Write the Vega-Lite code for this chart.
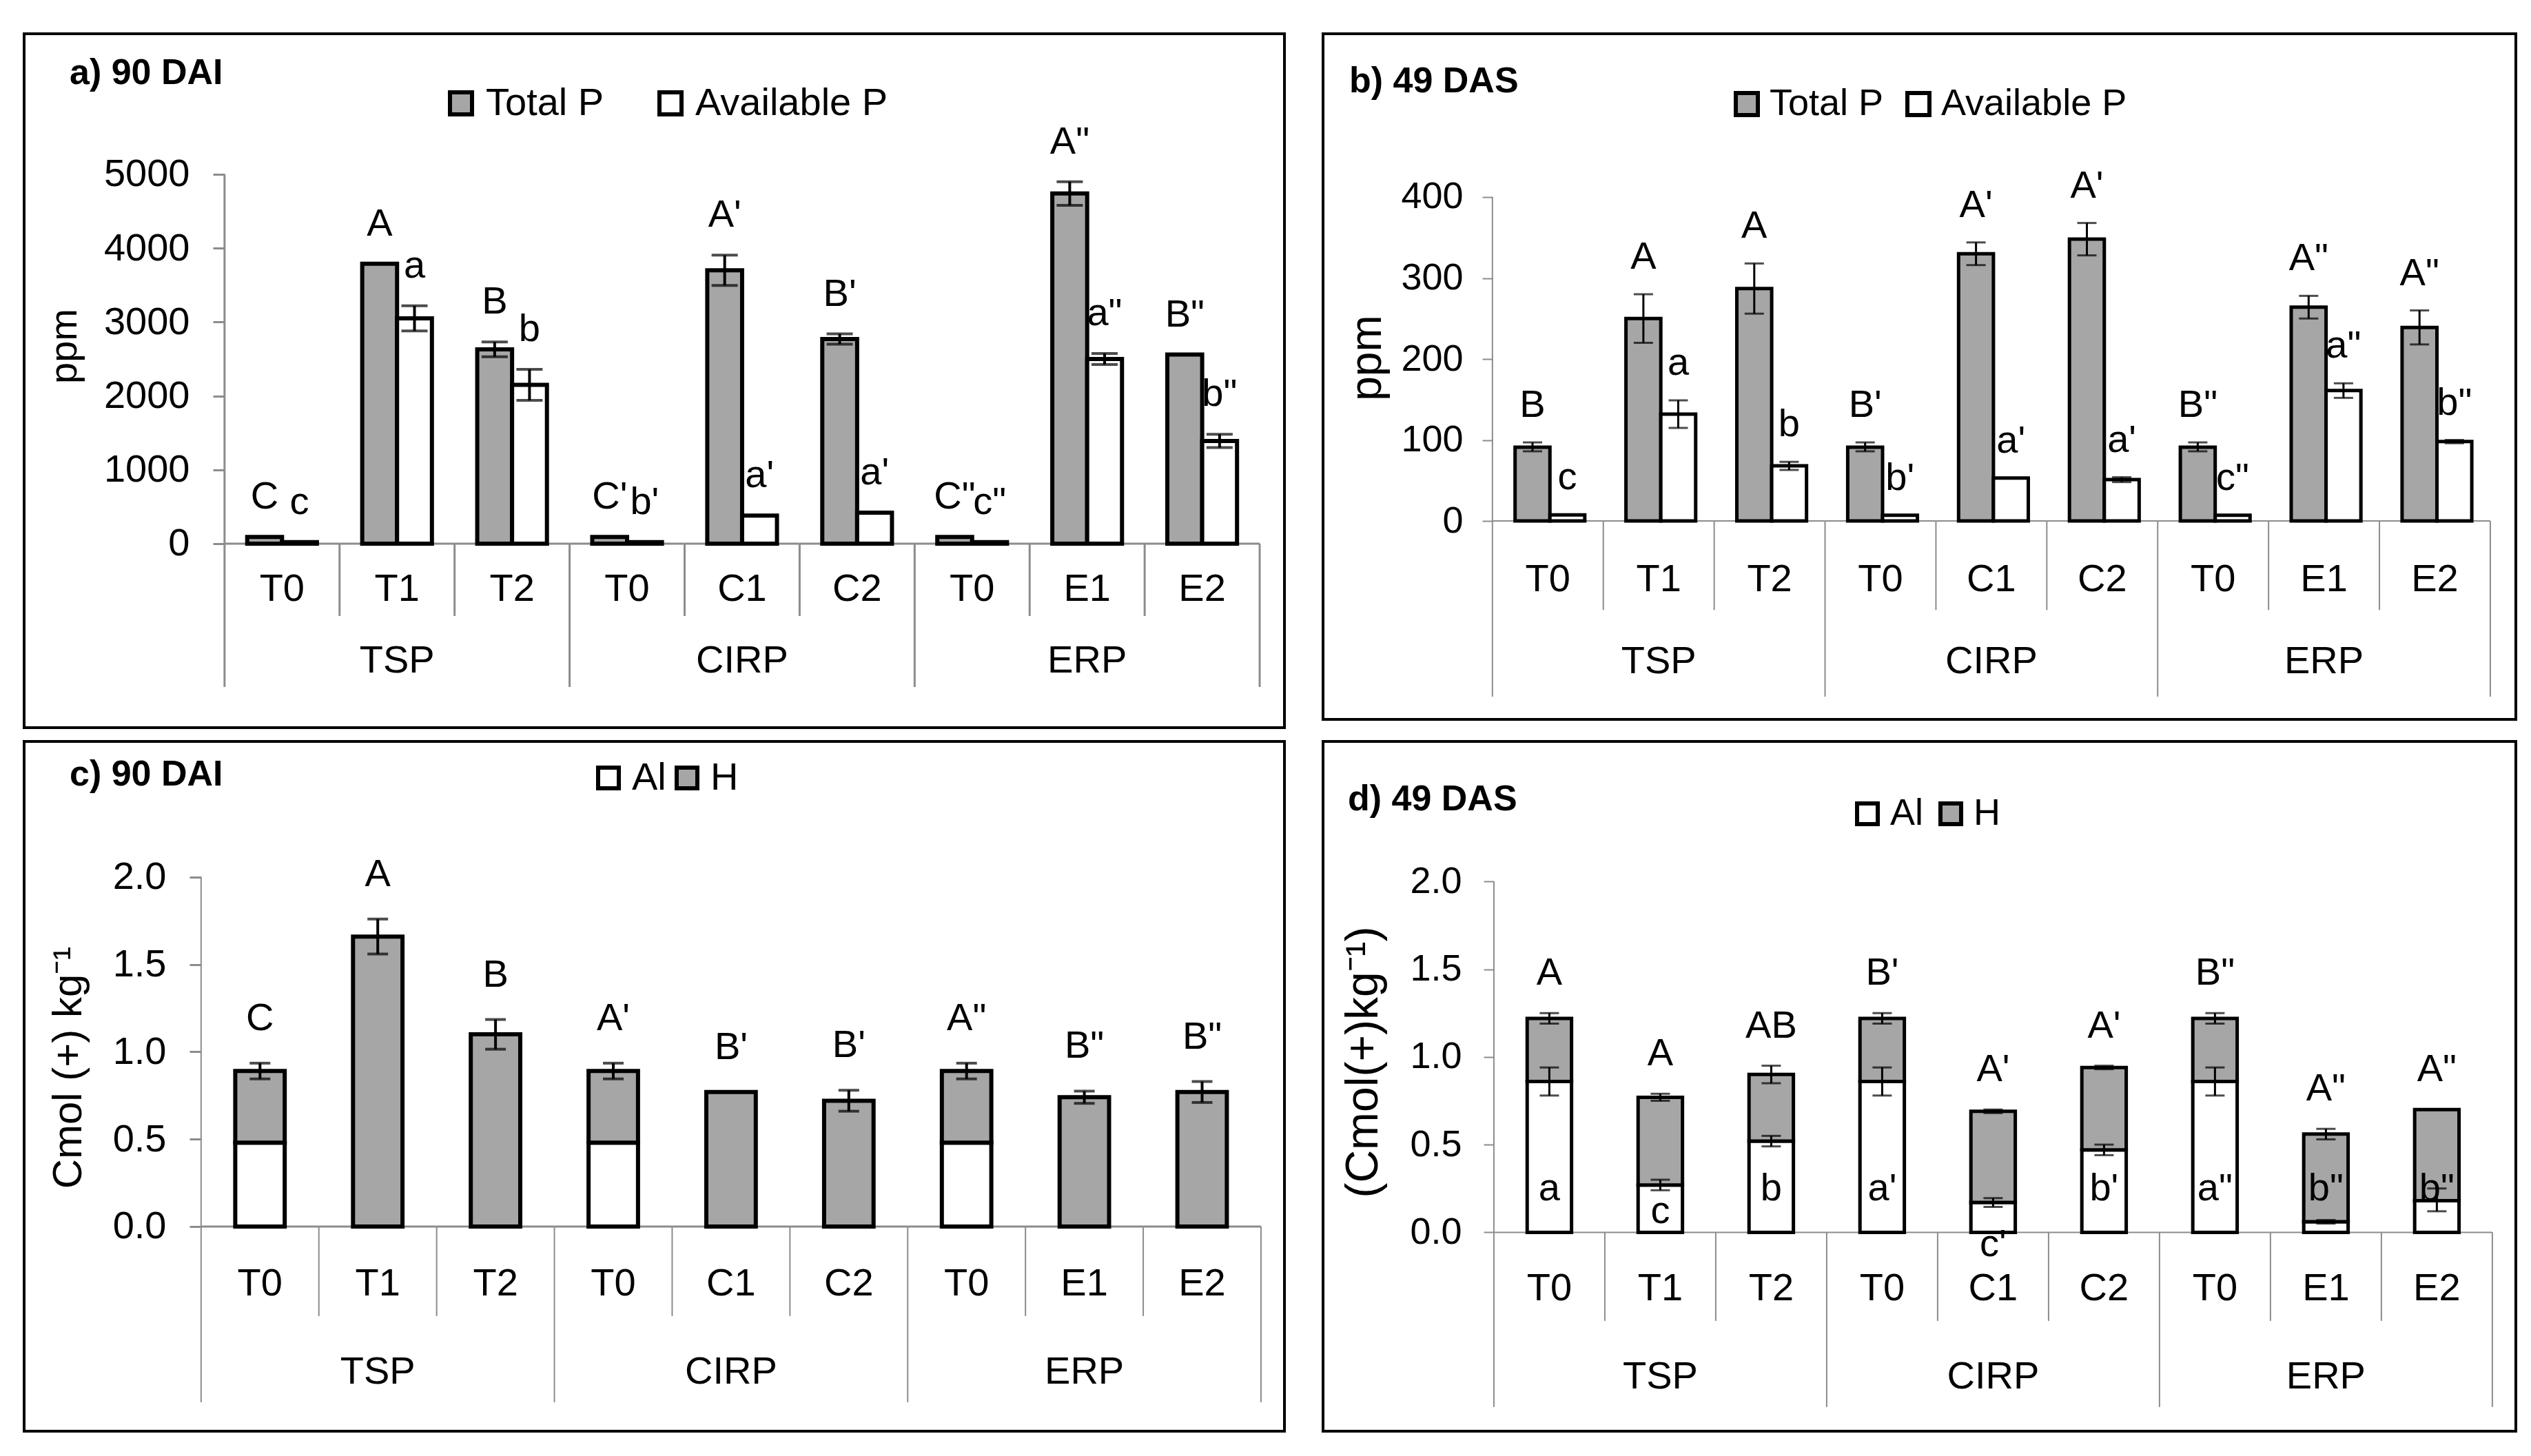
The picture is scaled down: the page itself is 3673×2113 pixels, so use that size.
{
"$schema": "https://vega.github.io/schema/vega-lite/v6.json",
"background": "white",
"padding": {"left": 33, "top": 47, "right": 0, "bottom": 0},
"spacing": 16,
"resolve": {"scale": {"fill": "independent"}, "legend": {"fill": "independent"}},
"datasets": {
"a": [
{"key":"TSP-T0","grp":"TSP","trt":"T0","series":"Total P","value":90,"lo":90,"hi":90,"letter":"C"},
{"key":"TSP-T0","grp":"TSP","trt":"T0","series":"Available P","value":20,"lo":20,"hi":20,"letter":"c"},
{"key":"TSP-T1","grp":"TSP","trt":"T1","series":"Total P","value":3790,"lo":3790,"hi":3790,"letter":"A"},
{"key":"TSP-T1","grp":"TSP","trt":"T1","series":"Available P","value":3050,"lo":2880,"hi":3220,"letter":"a"},
{"key":"TSP-T2","grp":"TSP","trt":"T2","series":"Total P","value":2630,"lo":2530,"hi":2730,"letter":"B"},
{"key":"TSP-T2","grp":"TSP","trt":"T2","series":"Available P","value":2150,"lo":1940,"hi":2360,"letter":"b"},
{"key":"CIRP-T0","grp":"CIRP","trt":"T0","series":"Total P","value":90,"lo":90,"hi":90,"letter":"C'"},
{"key":"CIRP-T0","grp":"CIRP","trt":"T0","series":"Available P","value":20,"lo":20,"hi":20,"letter":"b'"},
{"key":"CIRP-C1","grp":"CIRP","trt":"C1","series":"Total P","value":3700,"lo":3495,"hi":3905,"letter":"A'"},
{"key":"CIRP-C1","grp":"CIRP","trt":"C1","series":"Available P","value":380,"lo":380,"hi":380,"letter":"a'"},
{"key":"CIRP-C2","grp":"CIRP","trt":"C2","series":"Total P","value":2770,"lo":2700,"hi":2840,"letter":"B'"},
{"key":"CIRP-C2","grp":"CIRP","trt":"C2","series":"Available P","value":420,"lo":420,"hi":420,"letter":"a'"},
{"key":"ERP-T0","grp":"ERP","trt":"T0","series":"Total P","value":90,"lo":90,"hi":90,"letter":"C\""},
{"key":"ERP-T0","grp":"ERP","trt":"T0","series":"Available P","value":20,"lo":20,"hi":20,"letter":"c\""},
{"key":"ERP-E1","grp":"ERP","trt":"E1","series":"Total P","value":4740,"lo":4580,"hi":4900,"letter":"A\""},
{"key":"ERP-E1","grp":"ERP","trt":"E1","series":"Available P","value":2500,"lo":2425,"hi":2575,"letter":"a\""},
{"key":"ERP-E2","grp":"ERP","trt":"E2","series":"Total P","value":2560,"lo":2560,"hi":2560,"letter":"B\""},
{"key":"ERP-E2","grp":"ERP","trt":"E2","series":"Available P","value":1390,"lo":1300,"hi":1480,"letter":"b\""}
],
"b": [
{"key":"TSP-T0","grp":"TSP","trt":"T0","series":"Total P","value":91,"lo":86,"hi":97,"letter":"B"},
{"key":"TSP-T0","grp":"TSP","trt":"T0","series":"Available P","value":7.5,"lo":7.5,"hi":7.5,"letter":"c"},
{"key":"TSP-T1","grp":"TSP","trt":"T1","series":"Total P","value":250,"lo":220,"hi":280,"letter":"A"},
{"key":"TSP-T1","grp":"TSP","trt":"T1","series":"Available P","value":132,"lo":115,"hi":149,"letter":"a"},
{"key":"TSP-T2","grp":"TSP","trt":"T2","series":"Total P","value":287,"lo":256,"hi":318,"letter":"A"},
{"key":"TSP-T2","grp":"TSP","trt":"T2","series":"Available P","value":68,"lo":63,"hi":73,"letter":"b"},
{"key":"CIRP-T0","grp":"CIRP","trt":"T0","series":"Total P","value":91,"lo":86,"hi":97,"letter":"B'"},
{"key":"CIRP-T0","grp":"CIRP","trt":"T0","series":"Available P","value":7,"lo":7,"hi":7,"letter":"b'"},
{"key":"CIRP-C1","grp":"CIRP","trt":"C1","series":"Total P","value":330,"lo":316,"hi":344,"letter":"A'"},
{"key":"CIRP-C1","grp":"CIRP","trt":"C1","series":"Available P","value":53,"lo":53,"hi":53,"letter":"a'"},
{"key":"CIRP-C2","grp":"CIRP","trt":"C2","series":"Total P","value":348,"lo":328,"hi":368,"letter":"A'"},
{"key":"CIRP-C2","grp":"CIRP","trt":"C2","series":"Available P","value":51,"lo":48,"hi":54,"letter":"a'"},
{"key":"ERP-T0","grp":"ERP","trt":"T0","series":"Total P","value":91,"lo":86,"hi":97,"letter":"B\""},
{"key":"ERP-T0","grp":"ERP","trt":"T0","series":"Available P","value":7,"lo":7,"hi":7,"letter":"c\""},
{"key":"ERP-E1","grp":"ERP","trt":"E1","series":"Total P","value":264,"lo":250,"hi":278,"letter":"A\""},
{"key":"ERP-E1","grp":"ERP","trt":"E1","series":"Available P","value":161,"lo":152,"hi":170,"letter":"a\""},
{"key":"ERP-E2","grp":"ERP","trt":"E2","series":"Total P","value":239,"lo":218,"hi":260,"letter":"A\""},
{"key":"ERP-E2","grp":"ERP","trt":"E2","series":"Available P","value":98,"lo":96,"hi":100,"letter":"b\""}
],
"c": [
{"key":"TSP-T0","grp":"TSP","trt":"T0","series":"Al","value":0.48,"lo":null,"hi":null,"letter":""},
{"key":"TSP-T0","grp":"TSP","trt":"T0","series":"H","value":0.41,"lo":0.845,"hi":0.935,"letter":"C"},
{"key":"TSP-T1","grp":"TSP","trt":"T1","series":"Al","value":0,"lo":null,"hi":null,"letter":""},
{"key":"TSP-T1","grp":"TSP","trt":"T1","series":"H","value":1.66,"lo":1.56,"hi":1.76,"letter":"A"},
{"key":"TSP-T2","grp":"TSP","trt":"T2","series":"Al","value":0,"lo":null,"hi":null,"letter":""},
{"key":"TSP-T2","grp":"TSP","trt":"T2","series":"H","value":1.10,"lo":1.015,"hi":1.185,"letter":"B"},
{"key":"CIRP-T0","grp":"CIRP","trt":"T0","series":"Al","value":0.48,"lo":null,"hi":null,"letter":""},
{"key":"CIRP-T0","grp":"CIRP","trt":"T0","series":"H","value":0.41,"lo":0.845,"hi":0.935,"letter":"A'"},
{"key":"CIRP-C1","grp":"CIRP","trt":"C1","series":"Al","value":0,"lo":null,"hi":null,"letter":""},
{"key":"CIRP-C1","grp":"CIRP","trt":"C1","series":"H","value":0.77,"lo":0.77,"hi":0.77,"letter":"B'"},
{"key":"CIRP-C2","grp":"CIRP","trt":"C2","series":"Al","value":0,"lo":null,"hi":null,"letter":""},
{"key":"CIRP-C2","grp":"CIRP","trt":"C2","series":"H","value":0.72,"lo":0.66,"hi":0.78,"letter":"B'"},
{"key":"ERP-T0","grp":"ERP","trt":"T0","series":"Al","value":0.48,"lo":null,"hi":null,"letter":""},
{"key":"ERP-T0","grp":"ERP","trt":"T0","series":"H","value":0.41,"lo":0.845,"hi":0.935,"letter":"A\""},
{"key":"ERP-E1","grp":"ERP","trt":"E1","series":"Al","value":0,"lo":null,"hi":null,"letter":""},
{"key":"ERP-E1","grp":"ERP","trt":"E1","series":"H","value":0.74,"lo":0.705,"hi":0.775,"letter":"B\""},
{"key":"ERP-E2","grp":"ERP","trt":"E2","series":"Al","value":0,"lo":null,"hi":null,"letter":""},
{"key":"ERP-E2","grp":"ERP","trt":"E2","series":"H","value":0.77,"lo":0.71,"hi":0.83,"letter":"B\""}
],
"d": [
{"key":"TSP-T0","grp":"TSP","trt":"T0","series":"Al","value":0.86,"lo":0.78,"hi":0.94,"letter":"a"},
{"key":"TSP-T0","grp":"TSP","trt":"T0","series":"H","value":0.36,"lo":1.19,"hi":1.25,"letter":"A"},
{"key":"TSP-T1","grp":"TSP","trt":"T1","series":"Al","value":0.27,"lo":0.24,"hi":0.30,"letter":"c"},
{"key":"TSP-T1","grp":"TSP","trt":"T1","series":"H","value":0.50,"lo":0.75,"hi":0.79,"letter":"A"},
{"key":"TSP-T2","grp":"TSP","trt":"T2","series":"Al","value":0.52,"lo":0.49,"hi":0.55,"letter":"b"},
{"key":"TSP-T2","grp":"TSP","trt":"T2","series":"H","value":0.38,"lo":0.85,"hi":0.95,"letter":"AB"},
{"key":"CIRP-T0","grp":"CIRP","trt":"T0","series":"Al","value":0.86,"lo":0.78,"hi":0.94,"letter":"a'"},
{"key":"CIRP-T0","grp":"CIRP","trt":"T0","series":"H","value":0.36,"lo":1.19,"hi":1.25,"letter":"B'"},
{"key":"CIRP-C1","grp":"CIRP","trt":"C1","series":"Al","value":0.17,"lo":0.145,"hi":0.195,"letter":"c'"},
{"key":"CIRP-C1","grp":"CIRP","trt":"C1","series":"H","value":0.52,"lo":0.68,"hi":0.70,"letter":"A'"},
{"key":"CIRP-C2","grp":"CIRP","trt":"C2","series":"Al","value":0.47,"lo":0.44,"hi":0.50,"letter":"b'"},
{"key":"CIRP-C2","grp":"CIRP","trt":"C2","series":"H","value":0.47,"lo":0.93,"hi":0.95,"letter":"A'"},
{"key":"ERP-T0","grp":"ERP","trt":"T0","series":"Al","value":0.86,"lo":0.78,"hi":0.94,"letter":"a\""},
{"key":"ERP-T0","grp":"ERP","trt":"T0","series":"H","value":0.36,"lo":1.19,"hi":1.25,"letter":"B\""},
{"key":"ERP-E1","grp":"ERP","trt":"E1","series":"Al","value":0.06,"lo":0.05,"hi":0.07,"letter":"b\""},
{"key":"ERP-E1","grp":"ERP","trt":"E1","series":"H","value":0.50,"lo":0.53,"hi":0.59,"letter":"A\""},
{"key":"ERP-E2","grp":"ERP","trt":"E2","series":"Al","value":0.18,"lo":0.12,"hi":0.25,"letter":"b\""},
{"key":"ERP-E2","grp":"ERP","trt":"E2","series":"H","value":0.52,"lo":0.70,"hi":0.70,"letter":"A\""}
]
},
"vconcat": [
{"hconcat": [
{
"width": 1829, "height": 1007,
"data": {"name": "a"},
"title": {"text": "a)  90 DAI", "anchor": "start", "frame": "group", "fontSize": 52, "fontWeight": "bold", "baseline": "middle", "offset": -109, "dx": 66},
"layer": [
{"transform": [{"filter": "datum.series == 'Total P'"}],
 "mark": {"type": "rect", "stroke": "#8c8c8c", "strokeWidth": 3, "fill": "transparent"},
 "encoding": {"x": {"field": "key", "type": "nominal", "axis": null}, "y": {"datum": 0, "type": "quantitative"}, "y2": {"datum": 0}}},
{"transform": [{"filter": "datum.series == 'Total P' && datum.trt != 'T0'"}],
 "mark": {"type": "rule", "color": "#8c8c8c", "strokeWidth": 3},
 "encoding": {"x": {"field": "key", "type": "nominal", "bandPosition": 0, "axis": null}, "y": {"datum": 0, "type": "quantitative"}, "y2": {"datum": -979}}},
{"transform": [{"filter": "datum.series == 'Total P' && datum.trt == 'T0'"}],
 "mark": {"type": "rule", "color": "#8c8c8c", "strokeWidth": 3},
 "encoding": {"x": {"field": "key", "type": "nominal", "bandPosition": 0, "axis": null}, "y": {"datum": 0, "type": "quantitative"}, "y2": {"datum": -1940}}},
{"transform": [{"filter": "datum.series == 'Total P' && datum.key == 'TSP-T0'"}],
 "mark": {"type": "rule", "color": "#8c8c8c", "strokeWidth": 3},
 "encoding": {"x": {"field": "key", "type": "nominal", "bandPosition": 0, "axis": null}, "y": {"datum": 0, "type": "quantitative"}, "y2": {"datum": 5000}}},
{"transform": [{"filter": "datum.series == 'Total P' && datum.key == 'ERP-E2'"}],
 "mark": {"type": "rule", "color": "#8c8c8c", "strokeWidth": 3},
 "encoding": {"x": {"field": "key", "type": "nominal", "bandPosition": 1, "axis": null}, "y": {"datum": 0, "type": "quantitative"}, "y2": {"datum": -1940}}},
{"mark": {"type": "bar", "stroke": "black", "strokeWidth": 6},
 "encoding": {
  "x": {"field": "key", "type": "nominal", "axis": null, "scale": {"domain": ["TSP-T0","TSP-T1","TSP-T2","CIRP-T0","CIRP-C1","CIRP-C2","ERP-T0","ERP-E1","ERP-E2"], "paddingInner": 0, "paddingOuter": 0.979, "align": 0.89}},
  "xOffset": {"field": "series", "type": "nominal", "scale": {"domain": ["Total P","Available P"], "paddingInner": 0, "paddingOuter": 0.65}},
  "y": {"field": "value", "type": "quantitative", "scale": {"domain": [-2491, 6903], "nice": false},
        "axis": {"values": [0,1000,2000,3000,4000,5000], "format": "d", "offset": -291, "title": "ppm", "titleX": -233, "titleY": 453, "titleAngle": -90, "titleAlign": "center", "titleBaseline": "middle"}},
  "y2": {"datum": 0},
  "fill": {"field": "series", "type": "nominal", "scale": {"domain": ["Total P","Available P"], "range": ["#a6a6a6","#ffffff"]},
           "legend": {"title": null, "orient": "none", "direction": "horizontal", "legendX": 606, "legendY": 73, "columnPadding": 68, "labelFontSize": 56, "labelLimit": 0, "symbolType": "square", "symbolSize": 1024, "symbolStrokeColor": "black", "symbolStrokeWidth": 6, "labelOffset": 8}}
 }},
{"transform": [{"filter": "datum.hi > datum.lo"}],
 "mark": {"type": "rule", "color": "black", "strokeWidth": 4},
 "encoding": {"x": {"field": "key", "type": "nominal", "axis": null}, "xOffset": {"field": "series", "type": "nominal"}, "y": {"field": "lo", "type": "quantitative"}, "y2": {"field": "hi"}}},
{"transform": [{"filter": "datum.hi > datum.lo"}],
 "mark": {"type": "tick", "color": "black", "size": 38, "thickness": 4, "orient": "horizontal"},
 "encoding": {"x": {"field": "key", "type": "nominal", "axis": null}, "xOffset": {"field": "series", "type": "nominal"}, "y": {"field": "lo", "type": "quantitative"}}},
{"transform": [{"filter": "datum.hi > datum.lo"}],
 "mark": {"type": "tick", "color": "black", "size": 38, "thickness": 4, "orient": "horizontal"},
 "encoding": {"x": {"field": "key", "type": "nominal", "axis": null}, "xOffset": {"field": "series", "type": "nominal"}, "y": {"field": "hi", "type": "quantitative"}}},
{"mark": {"type": "text", "fontSize": 56, "baseline": "middle", "dy": -58},
 "encoding": {"x": {"field": "key", "type": "nominal", "axis": null}, "xOffset": {"field": "series", "type": "nominal"}, "y": {"field": "hi", "type": "quantitative"}, "text": {"field": "letter"}}},
{"transform": [{"filter": "datum.series == 'Total P'"}],
 "mark": {"type": "text", "fontSize": 56, "baseline": "middle"},
 "encoding": {"x": {"field": "key", "type": "nominal", "axis": null}, "y": {"datum": -616, "type": "quantitative"}, "text": {"field": "trt"}}},
{"transform": [{"filter": "datum.series == 'Total P' && (datum.trt == 'T1' || datum.trt == 'C1' || datum.trt == 'E1')"}],
 "mark": {"type": "text", "fontSize": 56, "baseline": "middle"},
 "encoding": {"x": {"field": "key", "type": "nominal", "axis": null}, "y": {"datum": -1586, "type": "quantitative"}, "text": {"field": "grp"}}}
]
},
{
"width": 1731, "height": 995,
"data": {"name": "b"},
"title": {"text": "b)  49 DAS", "anchor": "start", "frame": "group", "fontSize": 52, "fontWeight": "bold", "baseline": "middle", "offset": -121, "dx": 38},
"layer": [
{"transform": [{"filter": "datum.series == 'Total P'"}],
 "mark": {"type": "rect", "stroke": "#8c8c8c", "strokeWidth": 2, "fill": "transparent"},
 "encoding": {"x": {"field": "key", "type": "nominal", "axis": null}, "y": {"datum": 0, "type": "quantitative"}, "y2": {"datum": 0}}},
{"transform": [{"filter": "datum.series == 'Total P' && datum.trt != 'T0'"}],
 "mark": {"type": "rule", "color": "#8c8c8c", "strokeWidth": 2},
 "encoding": {"x": {"field": "key", "type": "nominal", "bandPosition": 0, "axis": null}, "y": {"datum": 0, "type": "quantitative"}, "y2": {"datum": -110}}},
{"transform": [{"filter": "datum.series == 'Total P' && datum.trt == 'T0'"}],
 "mark": {"type": "rule", "color": "#8c8c8c", "strokeWidth": 2},
 "encoding": {"x": {"field": "key", "type": "nominal", "bandPosition": 0, "axis": null}, "y": {"datum": 0, "type": "quantitative"}, "y2": {"datum": -217}}},
{"transform": [{"filter": "datum.series == 'Total P' && datum.key == 'TSP-T0'"}],
 "mark": {"type": "rule", "color": "#8c8c8c", "strokeWidth": 2},
 "encoding": {"x": {"field": "key", "type": "nominal", "bandPosition": 0, "axis": null}, "y": {"datum": 0, "type": "quantitative"}, "y2": {"datum": 400}}},
{"transform": [{"filter": "datum.series == 'Total P' && datum.key == 'ERP-E2'"}],
 "mark": {"type": "rule", "color": "#8c8c8c", "strokeWidth": 2},
 "encoding": {"x": {"field": "key", "type": "nominal", "bandPosition": 1, "axis": null}, "y": {"datum": 0, "type": "quantitative"}, "y2": {"datum": -217}}},
{"mark": {"type": "bar", "stroke": "black", "strokeWidth": 5},
 "encoding": {
  "x": {"field": "key", "type": "nominal", "axis": null, "scale": {"domain": ["TSP-T0","TSP-T1","TSP-T2","CIRP-T0","CIRP-C1","CIRP-C2","ERP-T0","ERP-E1","ERP-E2"], "paddingInner": 0, "paddingOuter": 0.879, "align": 0.869}},
  "xOffset": {"field": "series", "type": "nominal", "scale": {"domain": ["Total P","Available P"], "paddingInner": 0, "paddingOuter": 0.71}},
  "y": {"field": "value", "type": "quantitative", "scale": {"domain": [-245.1, 601.7], "nice": false},
        "axis": {"values": [0,100,200,300,400], "format": "d", "offset": -246, "title": "ppm", "titleX": -182, "titleY": 470, "titleAngle": -90, "titleAlign": "center", "titleBaseline": "middle", "labelFontSize": 54, "titleFontSize": 64, "tickWidth": 2, "tickSize": 15, "labelPadding": 28}},
  "y2": {"datum": 0},
  "fill": {"field": "series", "type": "nominal", "scale": {"domain": ["Total P","Available P"], "range": ["#a6a6a6","#ffffff"]},
           "legend": {"title": null, "orient": "none", "direction": "horizontal", "legendX": 588, "legendY": 75, "columnPadding": 22, "labelFontSize": 54, "labelLimit": 0, "symbolType": "square", "symbolSize": 1024, "symbolStrokeColor": "black", "symbolStrokeWidth": 6, "labelOffset": 6}}
 }},
{"transform": [{"filter": "datum.hi > datum.lo"}],
 "mark": {"type": "rule", "color": "black", "strokeWidth": 3},
 "encoding": {"x": {"field": "key", "type": "nominal", "axis": null}, "xOffset": {"field": "series", "type": "nominal"}, "y": {"field": "lo", "type": "quantitative"}, "y2": {"field": "hi"}}},
{"transform": [{"filter": "datum.hi > datum.lo"}],
 "mark": {"type": "tick", "color": "black", "size": 28, "thickness": 3, "orient": "horizontal"},
 "encoding": {"x": {"field": "key", "type": "nominal", "axis": null}, "xOffset": {"field": "series", "type": "nominal"}, "y": {"field": "lo", "type": "quantitative"}}},
{"transform": [{"filter": "datum.hi > datum.lo"}],
 "mark": {"type": "tick", "color": "black", "size": 28, "thickness": 3, "orient": "horizontal"},
 "encoding": {"x": {"field": "key", "type": "nominal", "axis": null}, "xOffset": {"field": "series", "type": "nominal"}, "y": {"field": "hi", "type": "quantitative"}}},
{"mark": {"type": "text", "fontSize": 56, "baseline": "middle", "dy": -54},
 "encoding": {"x": {"field": "key", "type": "nominal", "axis": null}, "xOffset": {"field": "series", "type": "nominal"}, "y": {"field": "hi", "type": "quantitative"}, "text": {"field": "letter"}}},
{"transform": [{"filter": "datum.series == 'Total P'"}],
 "mark": {"type": "text", "fontSize": 56, "baseline": "middle"},
 "encoding": {"x": {"field": "key", "type": "nominal", "axis": null}, "y": {"datum": -72, "type": "quantitative"}, "text": {"field": "trt"}}},
{"transform": [{"filter": "datum.series == 'Total P' && (datum.trt == 'T1' || datum.trt == 'C1' || datum.trt == 'E1')"}],
 "mark": {"type": "text", "fontSize": 56, "baseline": "middle"},
 "encoding": {"x": {"field": "key", "type": "nominal", "axis": null}, "y": {"datum": -174, "type": "quantitative"}, "text": {"field": "grp"}}}
]
}
], "spacing": 52, "resolve": {"scale": {"fill": "independent"}, "legend": {"fill": "independent"}}},
{"hconcat": [
{
"width": 1829, "height": 1001,
"data": {"name": "c"},
"title": {"text": "c)  90 DAI", "anchor": "start", "frame": "group", "fontSize": 52, "fontWeight": "bold", "baseline": "middle", "offset": -100, "dx": 66},
"layer": [
{"transform": [{"filter": "datum.series == 'H'"}],
 "mark": {"type": "rect", "stroke": "#8c8c8c", "strokeWidth": 3, "fill": "transparent"},
 "encoding": {"x": {"field": "key", "type": "nominal", "axis": null}, "y": {"datum": 0, "type": "quantitative"}, "y2": {"datum": 0}}},
{"transform": [{"filter": "datum.series == 'H' && datum.trt != 'T0'"}],
 "mark": {"type": "rule", "color": "#8c8c8c", "strokeWidth": 2},
 "encoding": {"x": {"field": "key", "type": "nominal", "bandPosition": 0, "axis": null}, "y": {"datum": 0, "type": "quantitative"}, "y2": {"datum": -0.513}}},
{"transform": [{"filter": "datum.series == 'H' && datum.trt == 'T0'"}],
 "mark": {"type": "rule", "color": "#8c8c8c", "strokeWidth": 2},
 "encoding": {"x": {"field": "key", "type": "nominal", "bandPosition": 0, "axis": null}, "y": {"datum": 0, "type": "quantitative"}, "y2": {"datum": -1.006}}},
{"transform": [{"filter": "datum.series == 'H' && datum.key == 'TSP-T0'"}],
 "mark": {"type": "rule", "color": "#8c8c8c", "strokeWidth": 2},
 "encoding": {"x": {"field": "key", "type": "nominal", "bandPosition": 0, "axis": null}, "y": {"datum": 0, "type": "quantitative"}, "y2": {"datum": 2}}},
{"transform": [{"filter": "datum.series == 'H' && datum.key == 'ERP-E2'"}],
 "mark": {"type": "rule", "color": "#8c8c8c", "strokeWidth": 2},
 "encoding": {"x": {"field": "key", "type": "nominal", "bandPosition": 1, "axis": null}, "y": {"datum": 0, "type": "quantitative"}, "y2": {"datum": -1.006}}},
{"mark": {"type": "bar", "stroke": "black", "strokeWidth": 6, "width": {"band": 0.42}},
 "encoding": {
  "x": {"field": "key", "type": "nominal", "axis": null, "scale": {"domain": ["TSP-T0","TSP-T1","TSP-T2","CIRP-T0","CIRP-C1","CIRP-C2","ERP-T0","ERP-E1","ERP-E2"], "paddingInner": 0, "paddingOuter": 0.851, "align": 0.883}},
  "y": {"field": "value", "type": "quantitative", "stack": "zero", "scale": {"domain": [-1.172, 2.777], "nice": false},
        "axis": {"values": [0,0.5,1,1.5,2], "format": ".1f", "offset": -257, "title": "Cmol   (+)   kg⁻¹", "titleX": -193, "titleY": 473, "titleAngle": -90, "titleAlign": "center", "titleBaseline": "middle", "titleFontSize": 60}},
  "fill": {"field": "series", "type": "nominal", "scale": {"domain": ["Al","H"], "range": ["#ffffff","#a6a6a6"]},
           "legend": {"title": null, "orient": "none", "direction": "horizontal", "legendX": 820, "legendY": 25, "columnPadding": 2, "labelFontSize": 56, "labelLimit": 0, "symbolType": "square", "symbolSize": 900, "symbolStrokeColor": "black", "symbolStrokeWidth": 6, "labelOffset": 6}},
  "order": {"field": "series", "sort": "ascending"}
 }},
{"transform": [{"filter": "datum.lo != null && datum.hi > datum.lo"}],
 "mark": {"type": "rule", "color": "black", "strokeWidth": 4},
 "encoding": {"x": {"field": "key", "type": "nominal", "axis": null}, "y": {"field": "lo", "type": "quantitative"}, "y2": {"field": "hi"}}},
{"transform": [{"filter": "datum.lo != null && datum.hi > datum.lo"}],
 "mark": {"type": "tick", "color": "black", "size": 30, "thickness": 4, "orient": "horizontal"},
 "encoding": {"x": {"field": "key", "type": "nominal", "axis": null}, "y": {"field": "lo", "type": "quantitative"}}},
{"transform": [{"filter": "datum.lo != null && datum.hi > datum.lo"}],
 "mark": {"type": "tick", "color": "black", "size": 30, "thickness": 4, "orient": "horizontal"},
 "encoding": {"x": {"field": "key", "type": "nominal", "axis": null}, "y": {"field": "hi", "type": "quantitative"}}},
{"transform": [{"filter": "datum.series == 'H'"}],
 "mark": {"type": "text", "fontSize": 56, "baseline": "middle", "dy": -65},
 "encoding": {"x": {"field": "key", "type": "nominal", "axis": null}, "y": {"field": "hi", "type": "quantitative"}, "text": {"field": "letter"}}},
{"transform": [{"filter": "datum.series == 'H'"}],
 "mark": {"type": "text", "fontSize": 56, "baseline": "middle"},
 "encoding": {"x": {"field": "key", "type": "nominal", "axis": null}, "y": {"datum": -0.327, "type": "quantitative"}, "text": {"field": "trt"}}},
{"transform": [{"filter": "datum.series == 'H' && (datum.trt == 'T1' || datum.trt == 'C1' || datum.trt == 'E1')"}],
 "mark": {"type": "text", "fontSize": 56, "baseline": "middle"},
 "encoding": {"x": {"field": "key", "type": "nominal", "axis": null}, "y": {"datum": -0.832, "type": "quantitative"}, "text": {"field": "grp"}}}
]
},
{
"width": 1731, "height": 1001,
"data": {"name": "d"},
"title": {"text": "d)  49 DAS", "anchor": "start", "frame": "group", "fontSize": 52, "fontWeight": "bold", "baseline": "middle", "offset": -136, "dx": 36},
"layer": [
{"transform": [{"filter": "datum.series == 'H'"}],
 "mark": {"type": "rect", "stroke": "#8c8c8c", "strokeWidth": 2, "fill": "transparent"},
 "encoding": {"x": {"field": "key", "type": "nominal", "axis": null}, "y": {"datum": 0, "type": "quantitative"}, "y2": {"datum": 0}}},
{"transform": [{"filter": "datum.series == 'H' && datum.trt != 'T0'"}],
 "mark": {"type": "rule", "color": "#8c8c8c", "strokeWidth": 2},
 "encoding": {"x": {"field": "key", "type": "nominal", "bandPosition": 0, "axis": null}, "y": {"datum": 0, "type": "quantitative"}, "y2": {"datum": -0.505}}},
{"transform": [{"filter": "datum.series == 'H' && datum.trt == 'T0'"}],
 "mark": {"type": "rule", "color": "#8c8c8c", "strokeWidth": 2},
 "encoding": {"x": {"field": "key", "type": "nominal", "bandPosition": 0, "axis": null}, "y": {"datum": 0, "type": "quantitative"}, "y2": {"datum": -0.996}}},
{"transform": [{"filter": "datum.series == 'H' && datum.key == 'TSP-T0'"}],
 "mark": {"type": "rule", "color": "#8c8c8c", "strokeWidth": 2},
 "encoding": {"x": {"field": "key", "type": "nominal", "bandPosition": 0, "axis": null}, "y": {"datum": 0, "type": "quantitative"}, "y2": {"datum": 2}}},
{"transform": [{"filter": "datum.series == 'H' && datum.key == 'ERP-E2'"}],
 "mark": {"type": "rule", "color": "#8c8c8c", "strokeWidth": 2},
 "encoding": {"x": {"field": "key", "type": "nominal", "bandPosition": 1, "axis": null}, "y": {"datum": 0, "type": "quantitative"}, "y2": {"datum": -0.996}}},
{"mark": {"type": "bar", "stroke": "black", "strokeWidth": 5, "width": {"band": 0.4}},
 "encoding": {
  "x": {"field": "key", "type": "nominal", "axis": null, "scale": {"domain": ["TSP-T0","TSP-T1","TSP-T2","CIRP-T0","CIRP-C1","CIRP-C2","ERP-T0","ERP-E1","ERP-E2"], "paddingInner": 0, "paddingOuter": 0.876, "align": 0.879}},
  "y": {"field": "value", "type": "quantitative", "stack": "zero", "scale": {"domain": [-1.134, 2.799], "nice": false},
        "axis": {"values": [0,0.5,1,1.5,2], "format": ".1f", "offset": -248, "title": "(Cmol(+)kg⁻¹)", "titleX": -190, "titleY": 465, "titleAngle": -90, "titleAlign": "center", "titleBaseline": "middle", "labelFontSize": 54, "titleFontSize": 66, "tickWidth": 2, "tickSize": 15, "labelPadding": 32}},
  "fill": {"field": "series", "type": "nominal", "scale": {"domain": ["Al","H"], "range": ["#ffffff","#a6a6a6"]},
           "legend": {"title": null, "orient": "none", "direction": "horizontal", "legendX": 763, "legendY": 78, "columnPadding": 12, "labelFontSize": 54, "labelLimit": 0, "symbolType": "square", "symbolSize": 900, "symbolStrokeColor": "black", "symbolStrokeWidth": 6, "labelOffset": 6}},
  "order": {"field": "series", "sort": "ascending"}
 }},
{"transform": [{"filter": "datum.lo != null && datum.hi > datum.lo"}],
 "mark": {"type": "rule", "color": "black", "strokeWidth": 3},
 "encoding": {"x": {"field": "key", "type": "nominal", "axis": null}, "y": {"field": "lo", "type": "quantitative"}, "y2": {"field": "hi"}}},
{"transform": [{"filter": "datum.lo != null && datum.hi > datum.lo"}],
 "mark": {"type": "tick", "color": "black", "size": 28, "thickness": 3, "orient": "horizontal"},
 "encoding": {"x": {"field": "key", "type": "nominal", "axis": null}, "y": {"field": "lo", "type": "quantitative"}}},
{"transform": [{"filter": "datum.lo != null && datum.hi > datum.lo"}],
 "mark": {"type": "tick", "color": "black", "size": 28, "thickness": 3, "orient": "horizontal"},
 "encoding": {"x": {"field": "key", "type": "nominal", "axis": null}, "y": {"field": "hi", "type": "quantitative"}}},
{"transform": [{"filter": "datum.series == 'H'"}],
 "mark": {"type": "text", "fontSize": 56, "baseline": "middle", "dy": -58},
 "encoding": {"x": {"field": "key", "type": "nominal", "axis": null}, "y": {"field": "hi", "type": "quantitative"}, "text": {"field": "letter"}}},
{"transform": [{"filter": "datum.series == 'Al' && datum.key != 'TSP-T1' && datum.key != 'CIRP-C1'"}],
 "mark": {"type": "text", "fontSize": 56, "baseline": "middle"},
 "encoding": {"x": {"field": "key", "type": "nominal", "axis": null}, "y": {"datum": 0.25, "type": "quantitative"}, "text": {"field": "letter"}}},
{"transform": [{"filter": "datum.series == 'Al' && datum.key == 'TSP-T1'"}],
 "mark": {"type": "text", "fontSize": 56, "baseline": "middle"},
 "encoding": {"x": {"field": "key", "type": "nominal", "axis": null}, "y": {"datum": 0.12, "type": "quantitative"}, "text": {"field": "letter"}}},
{"transform": [{"filter": "datum.series == 'Al' && datum.key == 'CIRP-C1'"}],
 "mark": {"type": "text", "fontSize": 56, "baseline": "middle"},
 "encoding": {"x": {"field": "key", "type": "nominal", "axis": null}, "y": {"datum": -0.07, "type": "quantitative"}, "text": {"field": "letter"}}},
{"transform": [{"filter": "datum.series == 'H'"}],
 "mark": {"type": "text", "fontSize": 56, "baseline": "middle"},
 "encoding": {"x": {"field": "key", "type": "nominal", "axis": null}, "y": {"datum": -0.32, "type": "quantitative"}, "text": {"field": "trt"}}},
{"transform": [{"filter": "datum.series == 'H' && (datum.trt == 'T1' || datum.trt == 'C1' || datum.trt == 'E1')"}],
 "mark": {"type": "text", "fontSize": 56, "baseline": "middle"},
 "encoding": {"x": {"field": "key", "type": "nominal", "axis": null}, "y": {"datum": -0.823, "type": "quantitative"}, "text": {"field": "grp"}}}
]
}
], "spacing": 52, "resolve": {"scale": {"fill": "independent"}, "legend": {"fill": "independent"}}}
],
"config": {
 "view": {"stroke": "black", "strokeWidth": 4},
 "font": "Liberation Sans",
 "text": {"font": "Liberation Sans", "color": "black"},
 "title": {"font": "Liberation Sans", "color": "black"},
 "axis": {"labelFont": "Liberation Sans", "titleFont": "Liberation Sans", "labelColor": "black", "titleColor": "black", "grid": false, "domain": false, "tickColor": "#8c8c8c", "tickWidth": 3, "tickSize": 17, "labelPadding": 34, "labelFontSize": 56, "titleFontSize": 56, "titleFontWeight": "normal"},
 "legend": {"labelFont": "Liberation Sans", "labelColor": "black"}
}
}
